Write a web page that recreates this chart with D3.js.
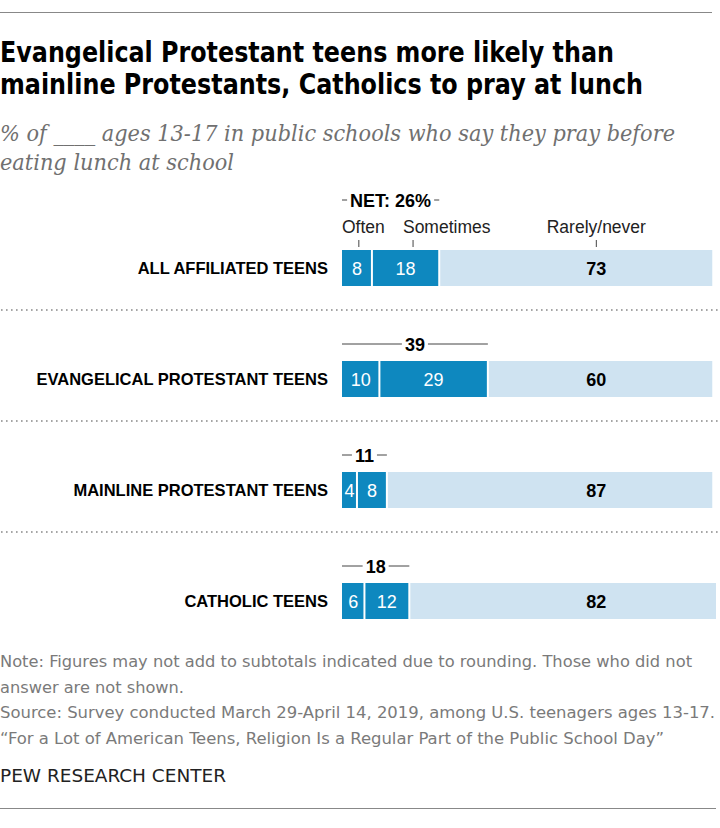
<!DOCTYPE html>
<html>
<head>
<meta charset="utf-8">
<script src="https://cdn.jsdelivr.net/npm/d3@7"></script>
<style>
  body { margin: 0; background: #fff; }
  svg { display: block; }
</style>
</head>
<body>
<div id="container"></div>
<script>
const groups = ['ALL AFFILIATED TEENS', 'EVANGELICAL PROTESTANT TEENS', 'MAINLINE PROTESTANT TEENS', 'CATHOLIC TEENS'];
const categories = ['Often', 'Sometimes', 'Rarely/never'];
const often = [8, 10, 4, 6];
const sometimes = [18, 29, 8, 12];
const rarely = [73, 60, 87, 82];
const net = ['NET: 26%', '39', '11', '18'];

const width = 720; const height = 828;
const svg = d3.select('#container').append('svg')
    .attr('width', width).attr('height', height);
svg.append('rect').attr('width', width).attr('height', height).attr('fill', '#fff');

const condensed = '\'Liberation Sans Narrow\', \'Arial Narrow\', \'DejaVu Sans Condensed\', sans-serif';
const sans = '\'Liberation Sans\', Arial, sans-serif';
const serif = '\'DejaVu Serif\', Georgia, serif';
const dark = '#0e88bf'; const light = '#cfe3f1';

// squeeze/stretch a text to a width
const fit = (sel, w) => sel.attr('textLength', w).attr('lengthAdjust', 'spacingAndGlyphs');

// header
svg.append('line').attr('x1', 0).attr('x2', 712).attr('y1', 12.5).attr('y2', 12.5)
    .attr('stroke', '#888').attr('stroke-width', 1);
const title = ['Evangelical Protestant teens more likely than', 'mainline Protestants, Catholics to pray at lunch'];
const titleW = [614, 643];
title.forEach((t, i) => {
  svg.append('text').attr('x', 0).attr('y', 62 + i * 32).text(t)
      .attr('font-family', condensed).attr('font-weight', 'bold').attr('font-size', 28)
      .attr('fill', '#000').call(fit, titleW[i]);
});
const sub = ['% of ____ ages 13-17 in public schools who say they pray before', 'eating lunch at school'];
const subW = [675, 234];
sub.forEach((t, i) => {
  svg.append('text').attr('x', 0).attr('y', 141 + i * 29).text(t)
      .attr('font-family', serif).attr('font-style', 'italic').attr('font-size', 22)
      .attr('fill', '#707070').call(fit, subW[i]);
});

// scales
const x = d3.scaleLinear().domain([0, 100]).range([342, 716]);
const y = d3.scalePoint().domain(groups).range([250, 583]);
const barH = 36;

const rows = groups.map((g, i) => ({
  group: g, vals: [often[i], sometimes[i], rarely[i]], net: net[i], idx: i,
}));

const row = svg.append('g').selectAll('g').data(rows).join('g')
    .attr('transform', (d) => 'translate(0,' + y(d.group) + ')');

row.append('text').attr('x', 328).attr('y', barH / 2 + 6).attr('text-anchor', 'end')
    .text((d) => d.group)
    .attr('font-family', sans).attr('font-weight', 'bold').attr('font-size', 16.5).attr('fill', '#000');

row.each(function(d) {
  const gg = d3.select(this);
  let acc = 0;
  const segs = d.vals.map((v, k) => {
    const s = {v: v, k: k, x0: acc, x1: acc + v};
    acc += v;
    return s;
  });
  gg.selectAll('rect').data(segs).join('rect')
      .attr('x', (s) => x(s.x0) + (s.k ? 1 : 0))
      .attr('width', (s) => x(s.x1) - x(s.x0) - (s.k ? 1 : 0) - (s.k < 2 ? 1 : 0))
      .attr('y', 0).attr('height', barH)
      .attr('fill', (s) => s.k < 2 ? dark : light);
  gg.selectAll('text.val').data(segs).join('text').attr('class', 'val')
      .attr('x', (s) => s.k < 2 ? (x(s.x0) + x(s.x1)) / 2 : x(68))
      .attr('y', barH / 2 + 6.5).attr('text-anchor', 'middle')
      .text((s) => s.v)
      .attr('font-family', sans).attr('font-size', 18)
      .attr('font-weight', (s) => s.k < 2 ? 'normal' : 'bold')
      .attr('fill', (s) => s.k < 2 ? '#fff' : '#000');

  // net bracket
  const ny = d.idx === 0 ? -50 : -17;
  const xa = x(0); const xb = x(segs[1].x1);
  const t = gg.append('text').attr('x', (xa + xb) / 2).attr('y', ny + 6.5).attr('text-anchor', 'middle')
      .text(d.net).attr('font-family', sans).attr('font-weight', 'bold').attr('font-size', 18).attr('fill', '#000');
  const tw = t.node().getComputedTextLength();
  const pad = 3;
  [[xa, (xa + xb) / 2 - tw / 2 - pad], [(xa + xb) / 2 + tw / 2 + pad, xb]].forEach((p) => {
    if (p[1] > p[0]) {
      gg.append('line').attr('x1', p[0]).attr('x2', p[1]).attr('y1', ny).attr('y2', ny)
          .attr('stroke', '#444').attr('stroke-width', 1);
    }
  });
});

// category labels above the first bar
const catStart = [0, 16.3, 68];
const catTick = [4.5, 19, 68];
const catAnchor = ['start', 'start', 'middle'];
const y0 = y(groups[0]);
categories.forEach((c, k) => {
  svg.append('text').attr('x', x(catStart[k])).attr('y', y0 - 17).attr('text-anchor', catAnchor[k])
      .text(c).attr('font-family', sans).attr('font-size', 17.5).attr('fill', '#222');
  svg.append('line').attr('x1', x(catTick[k])).attr('x2', x(catTick[k]))
      .attr('y1', y0 - 10).attr('y2', y0 - 3).attr('stroke', '#444').attr('stroke-width', 1);
});

// dotted separators
groups.slice(1).forEach((g) => {
  svg.append('line').attr('x1', 1).attr('x2', 720)
      .attr('y1', y(g) - 51).attr('y2', y(g) - 51)
      .attr('stroke', '#888').attr('stroke-width', 1.6)
      .attr('stroke-dasharray', '1.6,3.4');
});

// footer
const notes = [
  'Note: Figures may not add to subtotals indicated due to rounding. Those who did not',
  'answer are not shown.',
  'Source: Survey conducted March 29-April 14, 2019, among U.S. teenagers ages 13-17.',
  '\u201CFor a Lot of American Teens, Religion Is a Regular Part of the Public School Day\u201D',
];
const notesW = [692, 184, 715, 664];
notes.forEach((t, i) => {
  svg.append('text').attr('x', 0).attr('y', 667 + i * 25.5).text(t)
      .attr('font-family', condensed).attr('font-size', 16).attr('fill', '#7a7a7a')
      .call(fit, notesW[i]);
});
svg.append('text').attr('x', 0).attr('y', 782).text('PEW RESEARCH CENTER')
    .attr('font-family', condensed).attr('font-size', 18).attr('fill', '#222').call(fit, 226);
svg.append('line').attr('x1', 0).attr('x2', 716).attr('y1', 808.5).attr('y2', 808.5)
    .attr('stroke', '#888').attr('stroke-width', 1);
</script>
</body>
</html>
